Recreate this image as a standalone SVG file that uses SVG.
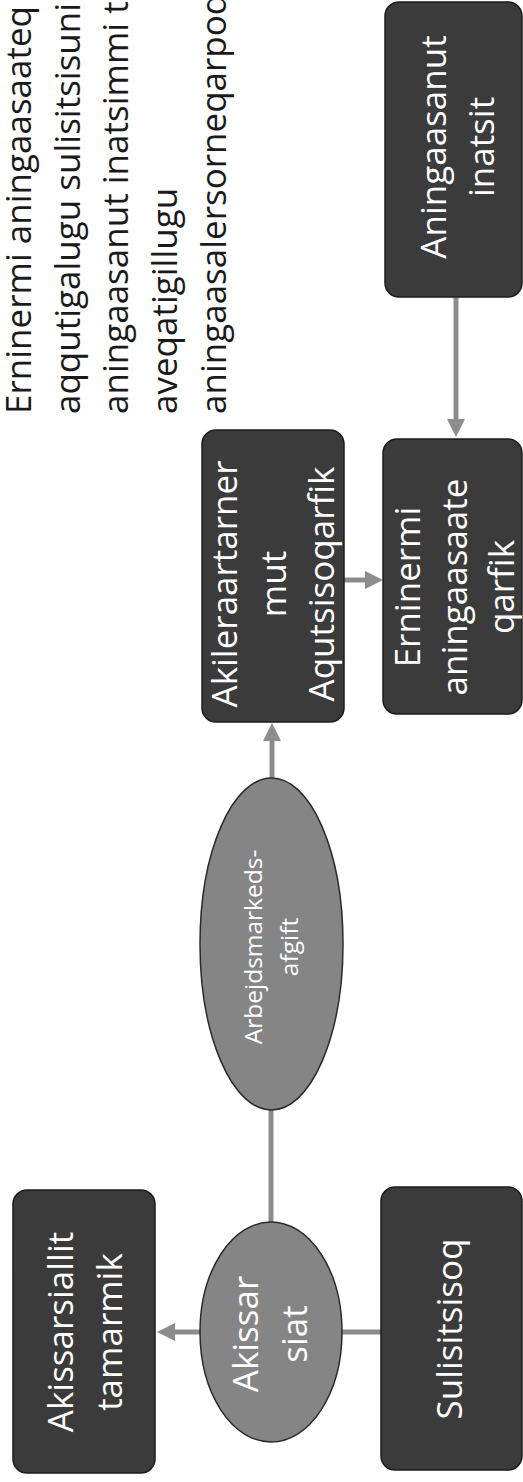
<svg xmlns="http://www.w3.org/2000/svg" width="523" height="1482" viewBox="0 0 523 1482">
<style>
.box{fill:#3b3b3b;stroke:#1c1c1c;stroke-width:1.5}
.ell{fill:#858585;stroke:#2a2a2a;stroke-width:1.5}
.lbl{font-family:"Open Sans","Noto Sans",sans-serif;font-size:35px;fill:#ffffff;text-anchor:middle}
.sml{font-family:"Open Sans","Noto Sans",sans-serif;font-size:24.5px;fill:#ffffff;text-anchor:middle}
.par{font-family:"Open Sans","Noto Sans",sans-serif;font-size:35px;fill:#1a1a1a}
.con{stroke:#8c8c8c;stroke-width:5;fill:none}
</style>
<defs>
<marker id="arr" markerUnits="userSpaceOnUse" markerWidth="19" markerHeight="20" refX="0" refY="10" orient="auto" viewBox="0 0 19 20">
<path d="M0,1 L18,10 L0,19 Z" fill="#8c8c8c"/>
</marker>
</defs>
<rect width="523" height="1482" fill="#ffffff"/>
<g id="paragraph" transform="translate(0,414) rotate(-90)">
<text class="par" x="0" y="31">Erninermi aningaasaateq</text>
<text class="par" x="0" y="80">aqqutigalugu sulisitsisuni</text>
<text class="par" x="0" y="128">aningaasanut inatsimmi t</text>
<text class="par" x="0" y="177">aveqatigillugu</text>
<text class="par" x="0" y="226">aningaasalersorneqarpoq</text>
</g>
<g id="connectors">
<line class="con" x1="200" y1="1332" x2="175" y2="1332" marker-end="url(#arr)"/>
<line class="con" x1="342" y1="1332" x2="381" y2="1332"/>
<line class="con" x1="271" y1="1222" x2="271" y2="1110"/>
<line class="con" x1="272" y1="778" x2="272" y2="741" marker-end="url(#arr)"/>
<line class="con" x1="344" y1="580" x2="365" y2="580" marker-end="url(#arr)"/>
<line class="con" x1="456" y1="297" x2="456" y2="419" marker-end="url(#arr)"/>
</g>
<g id="n1">
<rect class="box" x="13" y="1190" width="142" height="283" rx="14"/>
<g transform="translate(0,1332) rotate(-90)">
<text class="lbl" x="0" y="73">Akissarsiallit</text>
<text class="lbl" x="0" y="122">tamarmik</text>
</g>
</g>
<g id="n2">
<ellipse class="ell" cx="271" cy="1332" rx="71" ry="110"/>
<g transform="translate(0,1334) rotate(-90)">
<text class="lbl" x="0" y="258">Akissar</text>
<text class="lbl" x="0" y="307">siat</text>
</g>
</g>
<g id="n3">
<rect class="box" x="381" y="1187" width="141" height="283" rx="14"/>
<g transform="translate(0,1329) rotate(-90)">
<text class="lbl" x="0" y="462">Sulisitsisoq</text>
</g>
</g>
<g id="n4">
<ellipse class="ell" cx="271.5" cy="944" rx="71.5" ry="166"/>
<g transform="translate(0,947) rotate(-90)">
<text class="sml" x="0" y="262">Arbejdsmarkeds-</text>
<text class="sml" x="0" y="298">afgift</text>
</g>
</g>
<g id="n5">
<rect class="box" x="202" y="430" width="142" height="292" rx="14"/>
<g transform="translate(0,584) rotate(-90)">
<text class="lbl" x="0" y="237">Akileraartarner</text>
<text class="lbl" x="0" y="286">mut</text>
<text class="lbl" x="0" y="334">Aqutsisoqarfik</text>
</g>
</g>
<g id="n6">
<rect class="box" x="383" y="439" width="139" height="275" rx="14"/>
<g transform="translate(0,587) rotate(-90)">
<text class="lbl" x="0" y="420">Erninermi</text>
<text class="lbl" x="0" y="467">aningaasaate</text>
<text class="lbl" x="0" y="514">qarfik</text>
</g>
</g>
<g id="n7">
<rect class="box" x="385" y="2" width="137" height="295" rx="14"/>
<g transform="translate(0,147) rotate(-90)">
<text class="lbl" x="0" y="446">Aningaasanut</text>
<text class="lbl" x="0" y="494">inatsit</text>
</g>
</g>
</svg>
